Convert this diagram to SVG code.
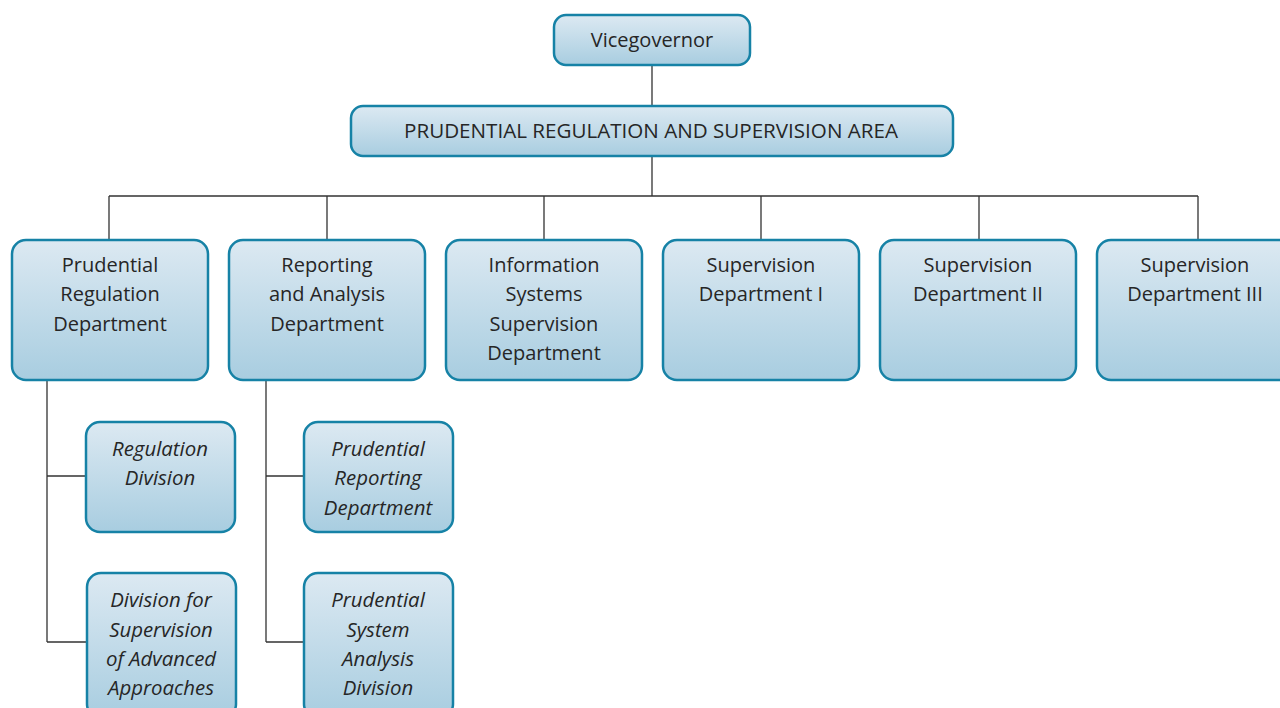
<svg xmlns="http://www.w3.org/2000/svg" width="1280" height="708" viewBox="0 0 1280 708">
<defs>
<linearGradient id="g" x1="0" y1="0" x2="0" y2="1">
<stop offset="0" stop-color="#dce9f2"/>
<stop offset="1" stop-color="#a8cde0"/>
</linearGradient>
<style>
.box{fill:url(#g);stroke:#1682a6;stroke-width:2.5}
.t{font-family:"Open Sans","Noto Sans",sans-serif;font-size:20px;fill:#262626;text-anchor:middle}
.i{font-style:italic;font-size:20.4px}
.c{fill:none;stroke:#333;stroke-width:1.3}
</style>
</defs>
<rect width="1280" height="708" fill="#fff"/>
<g id="connectors">
<path class="c" d="M652 65V106M652 156V196M109 196H1198M109 196V240M327 196V240M544 196V240M761 196V240M979 196V240M1198 196V240"/>
<path class="c" d="M47 380V642M47 476H86M47 642H87M266 380V642M266 476H304M266 642H304"/>
</g>
<g id="vicegovernor">
<rect class="box" x="554" y="15" width="196" height="50" rx="12"/>
<text class="t" x="652" y="47">Vicegovernor</text>
</g>
<g id="area">
<rect class="box" x="351" y="106" width="602" height="50" rx="12"/>
<text class="t" x="651" y="138" style="font-size:20.6px">PRUDENTIAL REGULATION AND SUPERVISION AREA</text>
</g>
<g id="prd">
<rect class="box" x="12" y="240" width="196" height="140" rx="14"/>
<text class="t" x="110" y="272">Prudential</text>
<text class="t" x="110" y="301">Regulation</text>
<text class="t" x="110" y="331">Department</text>
</g>
<g id="rad">
<rect class="box" x="229" y="240" width="196" height="140" rx="14"/>
<text class="t" x="327" y="272">Reporting</text>
<text class="t" x="327" y="301">and Analysis</text>
<text class="t" x="327" y="331">Department</text>
</g>
<g id="issd">
<rect class="box" x="446" y="240" width="196" height="140" rx="14"/>
<text class="t" x="544" y="272">Information</text>
<text class="t" x="544" y="301">Systems</text>
<text class="t" x="544" y="331">Supervision</text>
<text class="t" x="544" y="360">Department</text>
</g>
<g id="sd1">
<rect class="box" x="663" y="240" width="196" height="140" rx="14"/>
<text class="t" x="761" y="272">Supervision</text>
<text class="t" x="761" y="301">Department I</text>
</g>
<g id="sd2">
<rect class="box" x="880" y="240" width="196" height="140" rx="14"/>
<text class="t" x="978" y="272">Supervision</text>
<text class="t" x="978" y="301">Department II</text>
</g>
<g id="sd3">
<rect class="box" x="1097" y="240" width="196" height="140" rx="14"/>
<text class="t" x="1195" y="272">Supervision</text>
<text class="t" x="1195" y="301">Department III</text>
</g>
<g id="regdiv">
<rect class="box" x="86" y="422" width="149" height="110" rx="14"/>
<text class="t i" x="160" y="456">Regulation</text>
<text class="t i" x="160" y="485">Division</text>
</g>
<g id="advdiv">
<rect class="box" x="87" y="573" width="149" height="145" rx="14"/>
<text class="t i" x="161" y="607">Division for</text>
<text class="t i" x="161" y="637">Supervision</text>
<text class="t i" x="161" y="666">of Advanced</text>
<text class="t i" x="161" y="695">Approaches</text>
</g>
<g id="prdrep">
<rect class="box" x="304" y="422" width="149" height="110" rx="14"/>
<text class="t i" x="378" y="456">Prudential</text>
<text class="t i" x="378" y="485">Reporting</text>
<text class="t i" x="378" y="515">Department</text>
</g>
<g id="psad">
<rect class="box" x="304" y="573" width="149" height="145" rx="14"/>
<text class="t i" x="378" y="607">Prudential</text>
<text class="t i" x="378" y="637">System</text>
<text class="t i" x="378" y="666">Analysis</text>
<text class="t i" x="378" y="695">Division</text>
</g>
</svg>
